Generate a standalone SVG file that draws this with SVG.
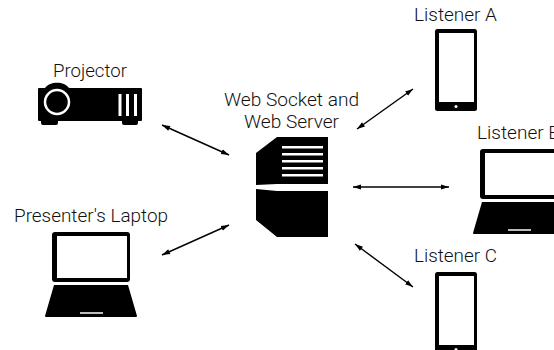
<svg xmlns="http://www.w3.org/2000/svg" width="554" height="350" viewBox="0 0 554 350">
<style>
text{font-family:"Roboto","Liberation Sans",Arial,sans-serif;font-weight:300;font-size:18px;fill:#111}
.w{fill:#fff}
.k{fill:#000}
.c{stroke:#000;stroke-width:1.400;fill:none;marker-start:url(#as);marker-end:url(#ae)}
</style>
<defs>
<marker id="ae" markerUnits="userSpaceOnUse" markerWidth="9" markerHeight="7" refX="8" refY="3.5" orient="auto"><path d="M0 .9L8 3.5L0 6.100Z"/></marker>
<marker id="as" markerUnits="userSpaceOnUse" markerWidth="9" markerHeight="7" refX="0" refY="3.5" orient="auto"><path d="M8 .9L0 3.5L8 6.100Z"/></marker>
<g id="phone"><rect class="k" x="435" width="42" height="82" rx="2.5"/><rect class="w" x="439" y="4" width="35" height="69"/><circle class="w" cx="456" cy="77.500" r="1.500"/></g>
<g id="laptop"><path class="k" d="M55 232H127a3 3 0 0 1 3 3V279a3 3 0 0 1-3 3H55a3 3 0 0 1-3-3V235a3 3 0 0 1 3-3ZM54 285H128L137 316a1 1 0 0 1-1 1H46a1 1 0 0 1-1-1Z"/><rect class="w" x="57" y="236" width="70" height="42"/><rect x="80" y="312" width="23" height="2" fill="#bbb"/></g>
</defs>
<g id="connectors">
<path class="c" d="M162 125L229 155"/>
<path class="c" d="M162 255L229 225"/>
<path class="c" d="M357 129L413 89"/>
<path class="c" d="M353 187H449"/>
<path class="c" d="M355 244L413 287"/>
</g>
<g id="projector">
<path class="k" d="M39 88H45C50 81 64 81 69 88H141a1 1 0 0 1 1 1V120a1 1 0 0 1-1 1H138V123a2 2 0 0 1-2 2H124a2 2 0 0 1-2-2V121H58V123a2 2 0 0 1-2 2H43a2 2 0 0 1-2-2V121H39a1 1 0 0 1-1-1V89a1 1 0 0 1 1-1Z"/>
<circle cx="57" cy="102" r="12" fill="none" stroke="#fff" stroke-width="2.500"/>
<rect class="w" x="118.500" y="94" width="3" height="22"/><rect class="w" x="126" y="94" width="3" height="22"/><rect class="w" x="134" y="94" width="3" height="22"/>
<text x="53" y="77" textLength="74" lengthAdjust="spacingAndGlyphs">Projector</text>
</g>
<g id="presenter-laptop"><use href="#laptop"/><text x="14" y="222" textLength="154" lengthAdjust="spacingAndGlyphs">Presenter's Laptop</text></g>
<g id="server">
<path class="k" d="M256 153L277 137H328V184H277L256 185Z"/>
<path class="k" d="M256 189L277 191H328V237H277L256 220Z"/>
<g class="w"><rect x="282" y="146" width="41" height="2.500"/><rect x="282" y="153" width="41" height="2.500"/><rect x="282" y="160" width="41" height="2.500"/><rect x="282" y="167" width="41" height="2.500"/><rect x="282" y="174" width="41" height="2.500"/></g>
<text x="224" y="106" textLength="135" lengthAdjust="spacingAndGlyphs">Web Socket and</text><text x="244" y="128" textLength="95" lengthAdjust="spacingAndGlyphs">Web Server</text>
</g>
<g id="listener-a"><use href="#phone" y="29"/><text x="414" y="20.500" textLength="83" lengthAdjust="spacingAndGlyphs">Listener A</text></g>
<g id="listener-b"><use href="#laptop" x="428" y="-83"/><text x="477" y="138.500" textLength="83" lengthAdjust="spacingAndGlyphs">Listener B</text></g>
<g id="listener-c"><use href="#phone" y="272"/><text x="414" y="262" textLength="83" lengthAdjust="spacingAndGlyphs">Listener C</text></g>
</svg>
